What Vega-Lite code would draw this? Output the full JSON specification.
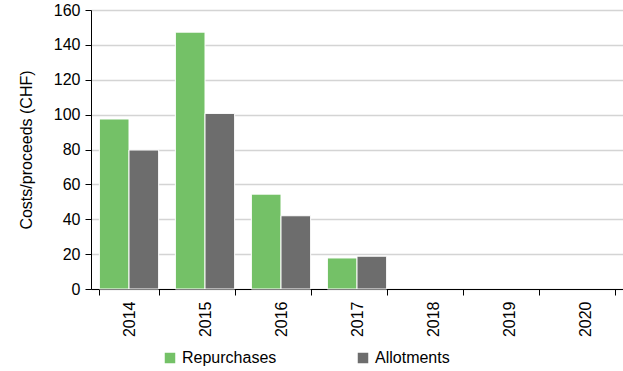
{
  "$schema": "https://vega.github.io/schema/vega-lite/v6.json",
  "autosize": {"type": "none"},
  "width": 532,
  "height": 279,
  "padding": {"left": 91, "top": 10, "right": 0, "bottom": 82},
  "background": "white",
  "config": {
    "font": "Liberation Sans",
    "view": {"stroke": null}
  },
  "data": {
    "values": [
      {"year": "2014", "series": "Repurchases", "value": 97.5},
      {"year": "2014", "series": "Allotments", "value": 79.7},
      {"year": "2015", "series": "Repurchases", "value": 147.3},
      {"year": "2015", "series": "Allotments", "value": 100.7},
      {"year": "2016", "series": "Repurchases", "value": 54.4},
      {"year": "2016", "series": "Allotments", "value": 42},
      {"year": "2017", "series": "Repurchases", "value": 17.8},
      {"year": "2017", "series": "Allotments", "value": 18.8}
    ]
  },
  "mark": {"type": "bar", "stroke": "white", "strokeWidth": 1},
  "encoding": {
    "x": {
      "field": "year", "type": "nominal",
      "scale": {"domain": ["2014","2015","2016","2017","2018","2019","2020"], "paddingInner": 0.22, "paddingOuter": 0.11},
      "axis": {
        "title": null, "labelAngle": -90, "labelFontSize": 16, "labelColor": "black",
        "domainColor": "black", "tickColor": "black", "tickBand": "extent", "tickSize": 6,
        "labelPadding": 6, "grid": false, "labelBaseline": "middle", "labelAlign": "right"
      }
    },
    "xOffset": {"field": "series", "type": "nominal", "sort": ["Repurchases", "Allotments"]},
    "y": {
      "field": "value", "type": "quantitative",
      "scale": {"domain": [0, 160]},
      "axis": {
        "title": "Costs/proceeds (CHF)", "titleFontSize": 16, "titleFontWeight": "normal", "titleColor": "black",
        "titlePadding": 19,
        "values": [0,20,40,60,80,100,120,140,160],
        "labelFontSize": 16, "labelColor": "black", "labelPadding": 5,
        "domainColor": "black", "tickColor": "black", "tickSize": 6,
        "gridColor": "#d4d4d4", "gridWidth": 1.5
      }
    },
    "color": {
      "field": "series", "type": "nominal",
      "scale": {"domain": ["Repurchases", "Allotments"], "range": ["#74c167", "#6d6d6d"]},
      "legend": {
        "title": null, "orient": "none", "legendX": 71, "legendY": 340, "direction": "horizontal",
        "columns": 2, "columnPadding": 78, "labelFontSize": 16, "labelColor": "black",
        "symbolType": "square", "symbolSize": 110, "symbolStrokeWidth": 0, "labelLimit": 200
      }
    }
  }
}
